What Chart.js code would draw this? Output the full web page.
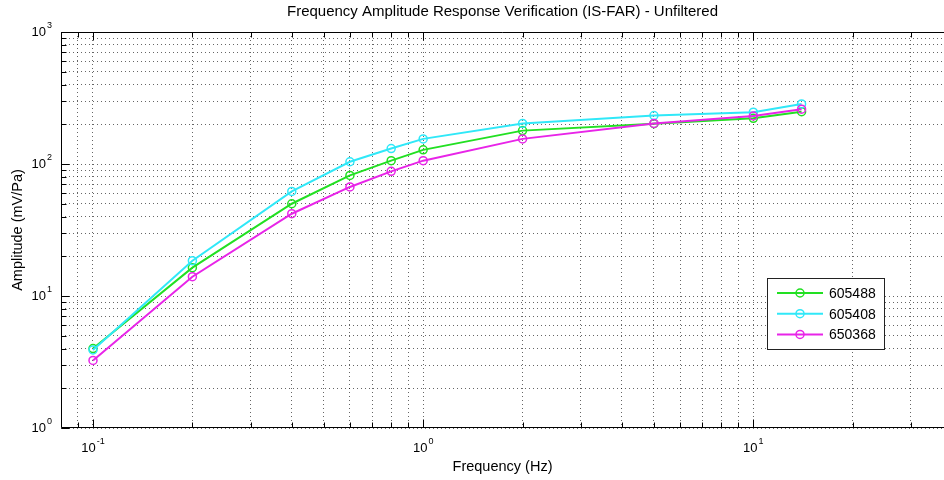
<!DOCTYPE html>
<html>
<head>
<meta charset="utf-8">
<script src="https://cdn.jsdelivr.net/npm/chart.js@4.4.1/dist/chart.umd.min.js"></script>
<style>
  html, body { margin: 0; padding: 0; background: #fff; overflow: hidden; }
</style>
</head>
<body>
<canvas id="farChart" width="944" height="480"></canvas>
<script>
// values
const frequencies = [0.1, 0.2, 0.4, 0.6, 0.8, 1, 2, 5, 10, 14];
const amp605488 = [4.0, 16.4, 50, 82, 106, 128, 179, 202, 222, 249];
const amp605408 = [3.9, 18.5, 62, 104, 131, 155, 203, 233, 247, 285];
const amp650368 = [3.25, 14.0, 42, 67, 88, 106, 155, 203, 231, 260];
const seriesNames = ['605488', '605408', '650368'];
const seriesColors = ['#22e022', '#30e8f8', '#e824e8'];
const xDecadeExponents = ['-1', '0', '1'];
const yDecadeExponents = ['0', '1', '2', '3'];

const FONT = '"Liberation Sans", Arial, sans-serif';

function logTicks(min, max) {
  const out = [];
  for (let e = Math.floor(Math.log10(min)); e <= Math.ceil(Math.log10(max)); e++) {
    for (let m = 1; m <= 9; m++) {
      const v = m * Math.pow(10, e);
      if (v >= min * 0.9999 && v <= max * 1.0001) out.push({ value: v, major: m === 1 });
    }
  }
  return out;
}

function toPoints(vals) {
  return frequencies.map((f, i) => ({ x: f, y: vals[i] }));
}

function drawPower(ctx, exp, x, y, align) {
  // "10" with a raised exponent, like MATLAB log tick labels
  ctx.font = '13px ' + FONT;
  const wBase = ctx.measureText('10').width;
  ctx.font = '9px ' + FONT;
  const wExp = ctx.measureText(exp).width;
  const total = wBase + 1 + wExp;
  let left = x - total / 2;
  if (align === 'right') left = x - total;
  ctx.textAlign = 'left';
  ctx.textBaseline = 'alphabetic';
  ctx.font = '13px ' + FONT;
  ctx.fillText('10', left, y);
  ctx.font = '9px ' + FONT;
  ctx.fillText(exp, left + wBase + 1, y - 8);
}

const matlabAxes = {
  id: 'matlabAxes',
  afterDraw(chart) {
    const { ctx, chartArea: a, scales } = chart;
    const xs = scales.x, ys = scales.y;
    ctx.save();
    ctx.strokeStyle = '#000';
    ctx.fillStyle = '#000';
    ctx.lineWidth = 1;

    const L = Math.round(a.left) + 0.5, R = Math.round(a.right), T = Math.round(a.top) + 0.5, B = Math.round(a.bottom) - 0.5;
    ctx.beginPath();
    ctx.moveTo(R, T); ctx.lineTo(L, T); ctx.lineTo(L, B); ctx.lineTo(R, B);
    ctx.stroke();

    // tick marks pointing inward
    ctx.beginPath();
    xs.ticks.forEach(t => {
      const px = Math.round(xs.getPixelForValue(t.value)) + 0.5;
      const len = t.major ? 8 : 5;
      ctx.moveTo(px, B); ctx.lineTo(px, B - len);
      ctx.moveTo(px, T); ctx.lineTo(px, T + len);
    });
    ys.ticks.forEach(t => {
      const py = Math.round(ys.getPixelForValue(t.value)) + 0.5;
      const len = t.major ? 8 : 5;
      ctx.moveTo(L, py); ctx.lineTo(L + len, py);
    });
    ctx.stroke();

    // tick labels
    xDecadeExponents.forEach(e => {
      const px = xs.getPixelForValue(Math.pow(10, Number(e)));
      drawPower(ctx, e, px, a.bottom + 24, 'center');
    });
    yDecadeExponents.forEach(e => {
      const py = ys.getPixelForValue(Math.pow(10, Number(e)));
      drawPower(ctx, e, a.left - 9, py + 4, 'right');
    });

    // title and axis titles
    const cx = (a.left + a.right) / 2;
    ctx.textAlign = 'center';
    ctx.textBaseline = 'middle';
    ctx.font = '15px ' + FONT;
    ctx.fillText('Frequency Amplitude Response Verification (IS-FAR) - Unfiltered', cx, 12);
    ctx.font = '14.5px ' + FONT;
    ctx.fillText('Frequency (Hz)', cx, 467);
    ctx.save();
    ctx.translate(18, (a.top + a.bottom) / 2);
    ctx.rotate(-Math.PI / 2);
    ctx.fillText('Amplitude (mV/Pa)', 0, 0);
    ctx.restore();

    // legend box
    const bx = 767.5, by = 278.5, bw = 117, bh = 71;
    ctx.fillStyle = '#fff';
    ctx.fillRect(bx, by, bw, bh);
    ctx.strokeStyle = '#222';
    ctx.strokeRect(bx, by, bw, bh);
    ctx.font = '14px ' + FONT;
    ctx.textAlign = 'left';
    ctx.textBaseline = 'middle';
    seriesNames.forEach((name, i) => {
      const ry = 293 + i * 20.7;
      ctx.strokeStyle = seriesColors[i];
      ctx.lineWidth = 2;
      ctx.beginPath();
      ctx.moveTo(777, ry); ctx.lineTo(823, ry);
      ctx.stroke();
      ctx.lineWidth = 1.5;
      ctx.beginPath();
      ctx.arc(800, ry, 4, 0, Math.PI * 2);
      ctx.stroke();
      ctx.fillStyle = '#000';
      ctx.fillText(name, 829, ry + 1);
    });
    ctx.restore();
  }
};

const seriesValues = [amp605488, amp605408, amp650368];
const drawOrder = [2, 1, 0];

const ctx = document.getElementById('farChart').getContext('2d');
const farChart = new Chart(ctx, {
  type: 'line',
  data: {
    datasets: seriesNames.map((name, i) => ({
      label: name,
      data: toPoints(seriesValues[i]),
      borderColor: seriesColors[i],
      borderWidth: 2,
      pointStyle: 'circle',
      pointRadius: 4,
      pointBorderWidth: 1.5,
      pointBorderColor: seriesColors[i],
      pointBackgroundColor: 'rgba(0,0,0,0)',
      tension: 0,
      fill: false,
      order: drawOrder[i]
    }))
  },
  options: {
    responsive: false,
    animation: false,
    layout: { autoPadding: false, padding: { left: 61, top: 32, right: 0, bottom: 52 } },
    scales: {
      x: {
        type: 'logarithmic',
        min: 0.08,
        max: 37.8,
        afterBuildTicks: scale => { scale.ticks = logTicks(0.08, 37.8); },
        ticks: { display: false },
        grid: { color: 'rgba(0,0,0,0.6)', lineWidth: 1, drawTicks: false },
        border: { display: false, dash: [1, 3] }
      },
      y: {
        type: 'logarithmic',
        min: 1,
        max: 1000,
        afterBuildTicks: scale => { scale.ticks = logTicks(1, 1000); },
        ticks: { display: false },
        grid: { color: 'rgba(0,0,0,0.6)', lineWidth: 1, drawTicks: false },
        border: { display: false, dash: [1, 3] }
      }
    },
    plugins: {
      legend: { display: false },
      tooltip: { enabled: false }
    }
  },
  plugins: [matlabAxes]
});
</script>
</body>
</html>
